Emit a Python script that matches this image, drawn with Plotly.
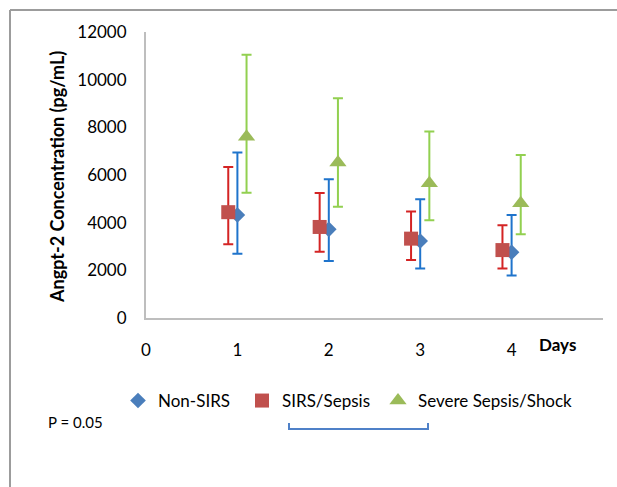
import plotly.graph_objects as go

# Angpt-2 concentration (pg/mL) by day and patient group: mean with asymmetric error bars
days = [1, 2, 3, 4]

non_sirs_mean = [4320, 3720, 3230, 2760]
non_sirs_high = [6940, 5820, 4980, 4320]
non_sirs_low = [2700, 2390, 2080, 1780]

sirs_mean = [4440, 3820, 3330, 2850]
sirs_high = [6340, 5250, 4470, 3890]
sirs_low = [3090, 2780, 2430, 2080]

severe_mean = [7600, 6520, 5650, 4810]
severe_high = [11050, 9220, 7830, 6840]
severe_low = [5260, 4670, 4100, 3510]

x_ticks = [0, 1, 2, 3, 4]
y_ticks = [0, 2000, 4000, 6000, 8000, 10000, 12000]

FONT = "Lato"
W, H = 617, 487
L, R, T, B = 146, 14, 32, 169
PW, PH = W - L - R, H - T - B


def px_x(p):
    return (p - L) / PW


def px_y(p):
    return (H - B - p) / PH


# name, values, x offset, symbol, size, marker colour, error colour, legend id, legend left (px)
series = [
    ("Non-SIRS", non_sirs_mean, non_sirs_high, non_sirs_low, 0.0,
     "diamond", 12, "#4A7EBB", "#1F74CC", "legend", 118),
    ("SIRS/Sepsis", sirs_mean, sirs_high, sirs_low, -0.1,
     "square", 14, "#C0504D", "#D42424", "legend2", 242),
    ("Severe Sepsis/Shock", severe_mean, severe_high, severe_low, 0.1,
     "triangle-up", 15, "#9BBB59", "#92D050", "legend3", 378),
]

fig = go.Figure()
legends = {}
for name, mean, high, low, off, sym, size, mcol, ecol, leg, leg_x in series:
    fig.add_trace(go.Scatter(
        x=[d + off for d in days],
        y=mean,
        mode="markers",
        name=name,
        legend=leg,
        marker=dict(symbol=sym, size=size, color=mcol, line=dict(width=0)),
        error_y=dict(
            type="data",
            symmetric=False,
            array=[h - m for h, m in zip(high, mean)],
            arrayminus=[m - lo for m, lo in zip(mean, low)],
            color=ecol,
            thickness=2,
            width=5,
        ),
    ))
    legends[leg] = dict(
        orientation="h", x=px_x(leg_x), y=px_y(401),
        xanchor="left", yanchor="middle",
        font=dict(family=FONT, size=17, color="#000000"),
        itemclick=False, bgcolor="rgba(0,0,0,0)",
    )

shapes = [
    # outer frame (top and left edges)
    dict(type="line", xref="paper", yref="paper",
         x0=px_x(10), x1=px_x(W + 5), y0=px_y(10), y1=px_y(10),
         line=dict(color="#9C9C9C", width=2)),
    dict(type="line", xref="paper", yref="paper",
         x0=px_x(10), x1=px_x(10), y0=px_y(10), y1=px_y(H + 5),
         line=dict(color="#9C9C9C", width=2)),
    # significance bracket
    dict(type="path", xref="paper", yref="paper",
         path=(f"M {px_x(289)} {px_y(423)} L {px_x(289)} {px_y(429)} "
               f"L {px_x(428)} {px_y(429)} L {px_x(428)} {px_y(423)}"),
         line=dict(color="#4F81C8", width=2)),
]

annotations = [
    dict(text="<b>Days</b>", x=4.5, y=px_y(344), xref="x", yref="paper",
         showarrow=False, font=dict(family=FONT, size=17, color="#000000"),
         xanchor="center", yanchor="middle"),
    dict(text="P = 0.05", x=px_x(46), y=px_y(422), xref="paper", yref="paper",
         showarrow=False, font=dict(family=FONT, size=15, color="#000000"),
         xanchor="left", yanchor="middle"),
    dict(text="<b>Angpt-2 Concentration (pg/mL)</b>", textangle=-90,
         x=px_x(57), y=px_y(177), xref="paper", yref="paper",
         showarrow=False, font=dict(family=FONT, size=18, color="#000000"),
         xanchor="center", yanchor="middle"),
]

fig.update_layout(
    width=W, height=H,
    margin=dict(l=L, r=R, t=T, b=B, autoexpand=False),
    paper_bgcolor="white", plot_bgcolor="white",
    font=dict(family=FONT, size=17, color="#000000"),
    showlegend=True,
    shapes=shapes,
    annotations=annotations,
    xaxis=dict(
        range=[0, 5], tickvals=x_ticks, ticktext=[str(v) for v in x_ticks],
        showgrid=False, zeroline=False, showline=True,
        linecolor="#BEBEBE", linewidth=2,
        ticks="", ticklabelstandoff=16,
        tickfont=dict(family=FONT, size=17),
    ),
    yaxis=dict(
        range=[0, 12000], tickvals=y_ticks, ticktext=[str(v) for v in y_ticks],
        showgrid=False, zeroline=False, showline=True,
        linecolor="#BEBEBE", linewidth=2,
        ticks="", ticklabelstandoff=14,
        tickfont=dict(family=FONT, size=17),
    ),
    **legends,
)

fig.write_html("out.html")
